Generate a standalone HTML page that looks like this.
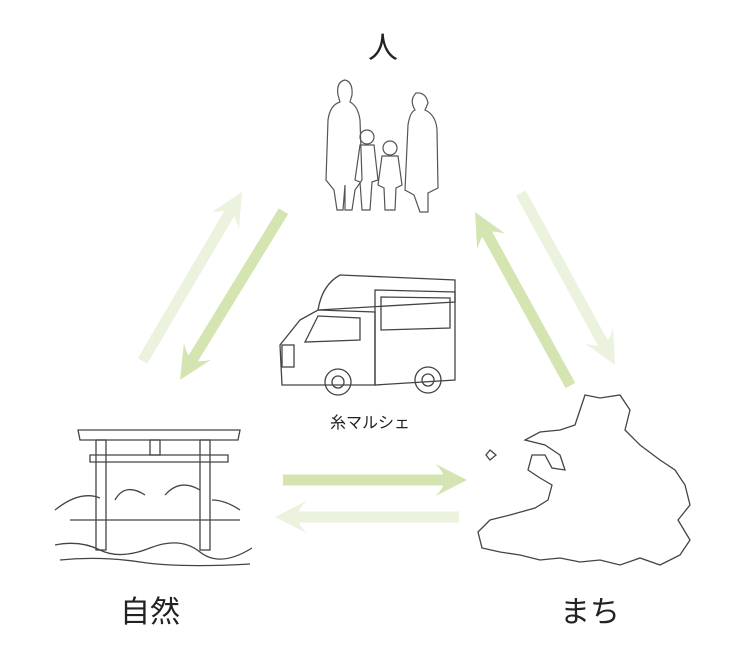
<!DOCTYPE html>
<html><head><meta charset="utf-8"><style>
body{margin:0;background:#fff;width:736px;height:659px;overflow:hidden}
svg{display:block}
text{font-family:"Liberation Sans","Noto Sans CJK JP",sans-serif;fill:#222}
</style></head><body>
<svg width="736" height="659" viewBox="0 0 736 659">
<defs>
<g id="ar"><rect x="-200" y="-5.5" width="178" height="11"/><path d="M0,0 L-34,-16 Q-24,-6 -24,0 Q-24,6 -34,16 Z"/></g>
</defs>
<!-- arrows -->
<g fill="#ebf2dd">
<g transform="translate(242,192) rotate(-59.5)"><use href="#ar" transform="scale(0.98,1)"/></g>
<g transform="translate(615,365) rotate(61.3)"><use href="#ar" transform="scale(0.98,1)"/></g>
<g transform="translate(275,517) rotate(180)"><use href="#ar" transform="scale(0.92,1)"/></g>
</g>
<g fill="#d4e5b1">
<g transform="translate(180,380) rotate(121.5)"><use href="#ar" transform="scale(0.99,1)"/></g>
<g transform="translate(475,212) rotate(-118.8)"><use href="#ar" transform="scale(0.99,1)"/></g>
<g transform="translate(467,480)"><use href="#ar" transform="scale(0.92,1)"/></g>
</g>
<!-- labels -->
<text x="383" y="58" font-size="30" text-anchor="middle">人</text>
<text x="150" y="622" font-size="30" text-anchor="middle">自然</text>
<text x="590" y="622" font-size="30" text-anchor="middle">まち</text>
<text x="370" y="428" font-size="16" text-anchor="middle">糸マルシェ</text>
<!-- people -->
<g fill="none" stroke="#555" stroke-width="1.2">
<path d="M337,210 L334,190 L326,180 L328,120 Q330,105 340,102 L338,95 Q336,82 345,80 Q353,82 352,95 L350,102 Q358,106 360,120 L362,180 L355,190 L352,210 L345,210 L345,185 L343,210 Z"/>
<path d="M420,212 L414,195 L405,190 L408,125 Q410,112 415,110 Q409,100 416,93 Q426,92 428,103 L425,110 Q436,115 437,130 L438,188 L428,193 L428,212 Z"/>
<circle cx="367" cy="137" r="7"/><path d="M360,145 L355,180 L360,182 L362,210 L370,210 L372,182 L378,180 L374,145 Z"/>
<circle cx="390" cy="148" r="7"/><path d="M382,156 L378,185 L384,188 L385,210 L395,210 L396,188 L402,185 L398,156 Z"/>
</g>
<!-- truck -->
<g fill="none" stroke="#444" stroke-width="1.3">
<path d="M318,310 Q322,285 340,275 L455,280 L455,302 L318,310"/>
<path d="M375,290 L455,292 L455,380 L375,385 Z"/>
<path d="M381,297 L450,298 L450,328 L381,330 Z"/>
<path d="M300,320 L318,310 L375,312 L375,385 L282,385 L280,345 Z"/>
<path d="M318,316 L360,318 L360,340 L305,342 Z"/>
<rect x="282" y="345" width="12" height="22"/>
<circle cx="338" cy="382" r="13"/><circle cx="338" cy="382" r="6"/>
<circle cx="428" cy="380" r="13"/><circle cx="428" cy="380" r="6"/>
</g>
<!-- torii -->
<g fill="none" stroke="#444" stroke-width="1.3">
<path d="M78,430 L240,430 L238,440 L80,440 Z"/>
<path d="M90,455 L228,455 L228,462 L90,462 Z"/>
<rect x="96" y="440" width="10" height="110"/>
<rect x="200" y="440" width="10" height="110"/>
<rect x="150" y="440" width="10" height="15"/>
<path d="M55,510 Q80,490 100,498 M115,500 Q125,482 145,495 M165,495 Q180,478 200,490 M212,500 Q225,500 240,510"/>
<path d="M55,545 Q80,540 100,550 T150,548 T200,552 T252,548 M60,560 Q100,556 140,562 T250,564 M70,520 L240,520"/>
</g>
<!-- map -->
<path fill="none" stroke="#444" stroke-width="1.3" d="M585,395 L600,398 L620,395 L630,410 L625,430 L640,445 L660,460 L675,470 L685,485 L690,505 L678,520 L690,540 L680,555 L660,565 L640,558 L620,565 L600,560 L580,562 L560,558 L540,560 L520,555 L500,552 L482,548 L478,532 L490,520 L510,515 L535,508 L548,500 L552,485 L540,478 L528,470 L532,455 L545,455 L552,468 L565,470 L560,455 L545,445 L525,440 L540,432 L560,430 L575,425 L580,410 Z M490,450 L496,455 L490,460 L486,455 Z"/>
</svg>
</body></html>
